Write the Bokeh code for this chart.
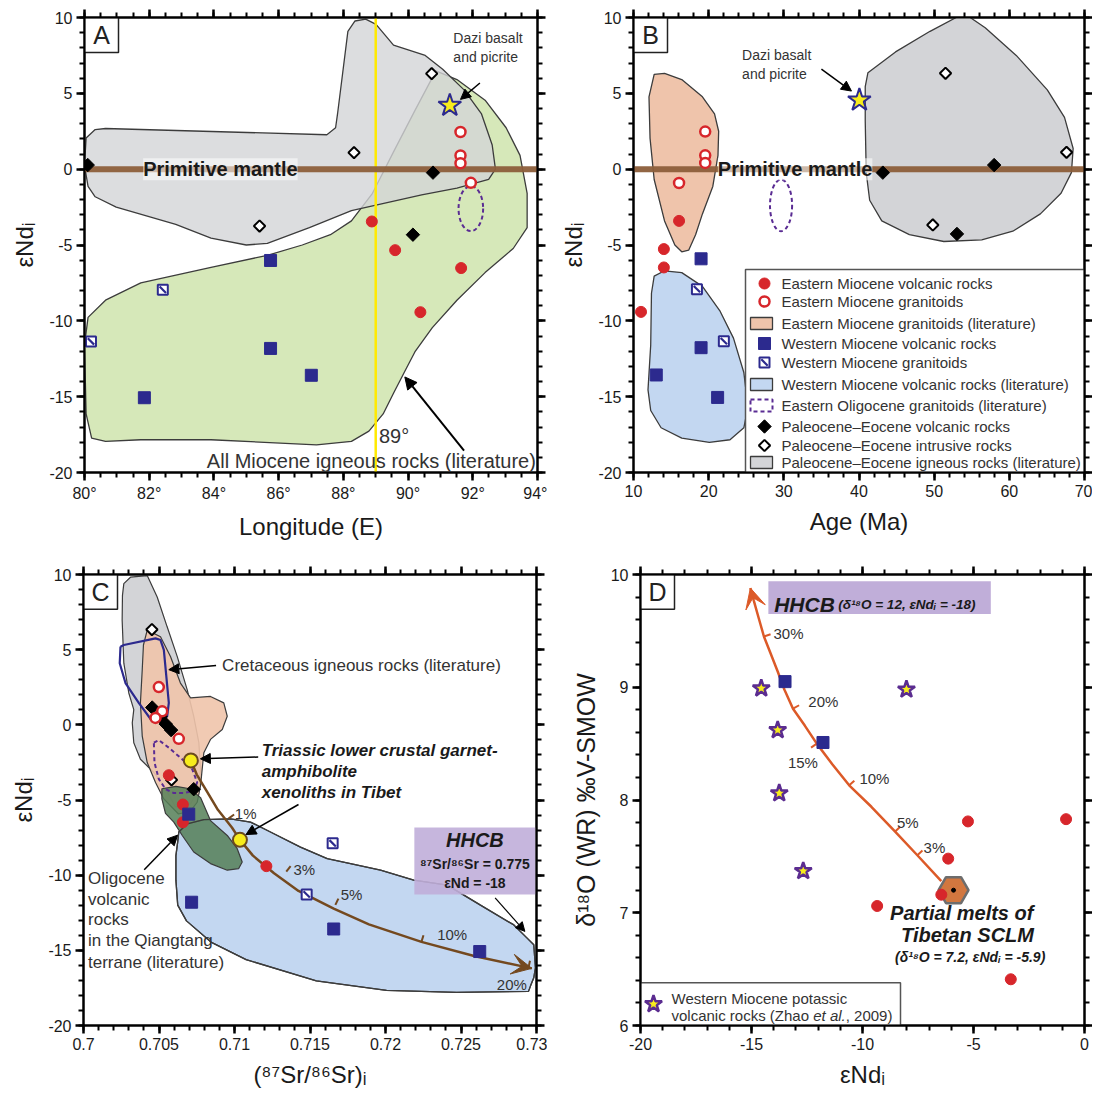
import numpy as np
from bokeh.plotting import figure
from bokeh.layouts import row, column
from bokeh.models import FixedTicker, LinearAxis, Label, Arrow, NormalHead, VeeHead, Range1d
from bokeh.embed import file_html
from bokeh.resources import INLINE

FONT = "Liberation Sans"
RED = "#d7262b"
NAVY = "#2c2a8e"
PURPLE_STAR = "#5b2c90"
YELLOW = "#f7ec1c"
BROWN = "#74491f"
PM_BROWN = "#8c5e3a"
ORANGE_CURVE = "#dc5a28"
GRAY_FILL = "#d3d4d7"
GREEN_FILL = "#d6e8b9"
ORANGE_FILL = "#efc4ab"
BLUE_FILL = "#c3d7f1"
DKGREEN_FILL = "#557f57"
HHCB_FILL = "#c0aed9"
OLIG_PURPLE = "#5a2c93"
OUTLINE = "#3c3c3c"
TEXT = "#333333"

# ---------------- common ticks ----------------
Y_TICKS = [-20, -15, -10, -5, 0, 5, 10]
Y_LABELS = ["-20", "-15", "-10", "-5", "0", "5", "10"]
Y_MINOR = list(range(-20, 11))
PRIMITIVE_MANTLE = 0.0

# ---------------- Panel A: eNd vs longitude ----------------
A_XR = (80, 94)
A_YR = (-20, 10)
A_XTICKS = [80, 82, 84, 86, 88, 90, 92, 94]
A_XLABELS = ["80°", "82°", "84°", "86°", "88°", "90°", "92°", "94°"]
A_XMINOR = [80 + 0.5 * i for i in range(29)]
A_SPLIT_LON = 89.0

A_E_VOLC_X = [88.88, 89.60, 91.64, 90.38]
A_E_VOLC_Y = [-3.45, -5.34, -6.52, -9.43]
A_E_GRAN_X = [91.62, 91.62, 91.62, 91.94]
A_E_GRAN_Y = [2.45, 0.90, 0.39, -0.90]
A_W_VOLC_X = [85.75, 85.75, 87.01, 81.85]
A_W_VOLC_Y = [-6.02, -11.82, -13.59, -15.07]
A_W_GRAN_X = [82.42, 80.20]
A_W_GRAN_Y = [-7.95, -11.36]
A_PE_VOLC_X = [80.10, 90.77, 90.15]
A_PE_VOLC_Y = [0.27, -0.23, -4.32]
A_PE_INTR_X = [90.73, 88.33, 85.41]
A_PE_INTR_Y = [6.30, 1.09, -3.75]
A_DAZI_X = [91.29]
A_DAZI_Y = [4.20]
A_OLIG = dict(x=91.94, y=-2.6, w=0.76, h=2.96)

A_GRAY_X = [80.0, 80.05, 80.33, 80.65, 87.49, 87.76, 87.82, 87.98, 88.14, 88.36, 88.69, 89.01,
            89.55, 90.53, 91.07, 91.73, 92.27, 92.6, 92.7, 92.49, 91.51, 90.42, 88.25, 86.95,
            85.65, 85.0, 83.91, 82.82, 80.98, 80.33, 80.11]
A_GRAY_Y = [0.23, 2.05, 2.61, 2.68, 2.27, 2.73, 3.64, 6.36, 9.09, 9.77, 9.89, 9.55,
            8.18, 7.5, 6.59, 5.23, 3.64, 1.59, 0.0, -0.68, -1.25, -1.7, -2.73, -3.86,
            -4.89, -5.0, -4.55, -3.64, -2.5, -1.82, -1.14]
A_GREEN_X = [80.11, 80.65, 81.74, 83.91, 85.65, 86.73, 87.6, 88.25, 88.9, 89.55, 90.21, 90.86,
             91.51, 92.38, 93.03, 93.46, 93.68, 93.68, 93.25, 92.38, 91.51, 90.75, 90.21, 89.88,
             89.55, 89.23, 88.79, 88.25, 87.17, 83.91, 81.74, 80.65, 80.22, 80.05, 80.0]
A_GREEN_Y = [-9.77, -8.64, -7.5, -6.48, -5.68, -5.0, -4.32, -3.41, -1.59, 1.14, 3.86, 6.48,
             5.91, 4.55, 2.73, 0.91, -1.59, -3.86, -5.23, -6.82, -8.64, -10.45, -12.05, -13.41,
             -14.77, -16.14, -17.27, -17.95, -18.18, -17.84, -17.84, -17.95, -17.73, -16.14, -11.59]

# ---------------- Panel B: eNd vs age ----------------
B_XR = (10, 70)
B_YR = (-20, 10)
B_XTICKS = [10, 20, 30, 40, 50, 60, 70]
B_XLABELS = ["10", "20", "30", "40", "50", "60", "70"]
B_XMINOR = list(range(10, 71, 2))

B_E_VOLC_X = [16.06, 14.04, 14.04, 11.0]
B_E_VOLC_Y = [-3.41, -5.27, -6.48, -9.41]
B_E_GRAN_X = [19.54, 19.54, 19.54, 16.06]
B_E_GRAN_Y = [2.48, 0.91, 0.41, -0.91]
B_W_VOLC_X = [18.99, 18.99, 13.03, 21.19]
B_W_VOLC_Y = [-5.91, -11.77, -13.57, -15.05]
B_W_GRAN_X = [18.44, 22.02]
B_W_GRAN_Y = [-7.91, -11.34]
B_PE_VOLC_X = [43.17, 57.98, 53.03]
B_PE_VOLC_Y = [-0.23, 0.27, -4.27]
B_PE_INTR_X = [51.51, 67.61, 49.82]
B_PE_INTR_Y = [6.32, 1.11, -3.68]
B_DAZI_X = [40.05]
B_DAZI_Y = [4.55]
B_OLIG = dict(x=29.63, y=-2.39, w=2.94, h=3.4)

B_ORANGE_X = [12.75, 14.13, 16.42, 19.17, 20.78, 21.33, 21.24, 20.55, 19.17, 18.26, 17.34, 16.42,
              15.5, 14.13, 12.75, 12.2, 12.06]
B_ORANGE_Y = [6.25, 6.32, 5.91, 4.77, 3.64, 2.5, 0.91, -1.14, -2.95, -4.32, -5.34, -5.45,
              -5.0, -3.41, -0.68, 2.05, 4.77]
B_BLUE_X = [12.75, 14.13, 16.42, 19.17, 21.47, 23.3, 24.68, 25.23, 24.68, 22.84, 20.09, 16.42,
            13.67, 12.29, 11.93, 12.29, 12.39]
B_BLUE_Y = [-7.05, -6.7, -6.82, -7.73, -9.32, -11.14, -13.41, -15.68, -17.05, -17.84, -18.02, -17.73,
            -17.05, -15.91, -14.55, -11.59, -8.18]
B_GRAY_X = [41.19, 44.86, 49.45, 53.12, 54.5, 56.79, 60.92, 65.05, 67.34, 68.49, 68.26, 66.88,
            64.13, 60.46, 56.33, 51.28, 46.7, 43.03, 41.42, 40.96, 40.83, 40.83]
B_GRAY_Y = [6.36, 7.73, 9.09, 10.05, 10.1, 9.32, 7.5, 5.23, 3.41, 1.36, -0.23, -1.59,
            -2.95, -4.09, -4.66, -4.77, -4.32, -3.41, -2.05, -0.23, 3.18, 5.45]

B_LEGEND_LABELS = [
    "Eastern Miocene volcanic rocks",
    "Eastern Miocene granitoids",
    "Eastern Miocene granitoids (literature)",
    "Western Miocene volcanic rocks",
    "Western Miocene granitoids",
    "Western Miocene volcanic rocks (literature)",
    "Eastern Oligocene granitoids (literature)",
    "Paleocene\u2013Eocene volcanic rocks",
    "Paleocene\u2013Eocene intrusive rocks",
    "Paleocene\u2013Eocene igneous rocks (literature)",
]
B_LEGEND_KINDS = ["e_volc", "e_gran", "f_orange", "w_volc", "w_gran", "f_blue", "f_olig",
                  "pe_volc", "pe_intr", "f_gray"]

# ---------------- Panel C: eNd vs 87Sr/86Sr ----------------
C_XR = (0.7, 0.73)
C_YR = (-20, 10)
C_XTICKS = [0.7, 0.705, 0.71, 0.715, 0.72, 0.725, 0.73]
C_XLABELS = ["0.7", "0.705", "0.71", "0.715", "0.72", "0.725", "0.73"]
C_XMINOR = [round(0.7 + 0.001 * i, 3) for i in range(31)]

C_E_VOLC_X = [0.70565, 0.70658, 0.70658, 0.71211]
C_E_VOLC_Y = [-3.35, -5.30, -6.48, -9.40]
C_E_GRAN_X = [0.70499, 0.70521, 0.70477, 0.70631]
C_E_GRAN_Y = [2.51, 0.90, 0.46, -0.93]
C_W_VOLC_X = [0.70697, 0.70716, 0.71657, 0.72624]
C_W_VOLC_Y = [-5.94, -11.80, -13.58, -15.08]
C_W_GRAN_X = [0.71650, 0.71478]
C_W_GRAN_Y = [-7.88, -11.28]
C_PE_VOLC_X = [0.70455, 0.70510, 0.70545, 0.70580, 0.70730]
C_PE_VOLC_Y = [1.15, 0.55, 0.05, -0.35, -4.28]
C_PE_INTR_X = [0.70453, 0.70583]
C_PE_INTR_Y = [6.34, -3.66]
C_XENO_X = [0.70711, 0.71036]
C_XENO_Y = [-2.37, -7.65]

C_GRAY_X = [0.70267, 0.70311, 0.70422, 0.70488, 0.70554, 0.70621, 0.70687, 0.70730, 0.70764, 0.70775,
            0.70764, 0.70709, 0.70609, 0.70532, 0.70466, 0.70377, 0.70333, 0.70323, 0.70333, 0.70300,
            0.70267, 0.70256, 0.70258]
C_GRAY_Y = [9.39, 9.82, 9.93, 8.50, 6.52, 4.54, 2.33, 0.57, -1.19, -2.95,
            -4.27, -5.26, -5.46, -4.06, -3.17, -2.29, -1.19, 0.13, 1.01, 2.12,
            4.10, 6.96, 8.61]
C_ORANGE_X = [0.70422, 0.70510, 0.70576, 0.70642, 0.70709, 0.70841, 0.70929, 0.70952, 0.70919, 0.70841,
              0.70797, 0.70786, 0.70775, 0.70753, 0.70709, 0.70629, 0.70532, 0.70477, 0.70422, 0.70389,
              0.70377, 0.70389, 0.70397]
C_ORANGE_Y = [6.30, 5.86, 4.54, 2.78, 1.79, 1.89, 1.46, 0.57, -0.31, -0.97,
              -1.85, -2.95, -4.06, -5.15, -5.73, -5.93, -4.93, -3.83, -2.51, -0.75,
              1.46, 3.66, 5.31]
C_CRET_X = [0.70245, 0.70267, 0.70477, 0.70510, 0.70532, 0.70565, 0.70554, 0.70521, 0.70455, 0.70366,
            0.70278, 0.70240, 0.70245]
C_CRET_Y = [5.20, 5.31, 5.75, 5.64, 4.98, 1.46, 0.57, 0.17, 0.24, 1.46,
            2.78, 4.10, 5.20]
C_OLIG_X = [0.70466, 0.70499, 0.70565, 0.70654, 0.70720, 0.70753, 0.70730, 0.70664, 0.70598, 0.70543,
            0.70499, 0.70470, 0.70466]
C_OLIG_Y = [-1.19, -1.02, -1.52, -2.29, -2.95, -3.83, -4.39, -4.54, -4.54, -4.27,
            -3.61, -2.51, -1.19]
C_DKGREEN_X = [0.70519, 0.70612, 0.70705, 0.70775, 0.70841, 0.70952, 0.71018, 0.71051, 0.71028, 0.70952,
               0.70841, 0.70730, 0.70654, 0.70598, 0.70543, 0.70519]
C_DKGREEN_Y = [-4.25, -4.09, -4.25, -4.84, -6.37, -7.36, -8.24, -9.12, -9.56, -9.67,
               -9.23, -8.46, -7.36, -6.47, -5.89, -4.93]
C_BLUE_X = [0.70631, 0.70687, 0.70797, 0.70974, 0.71106, 0.71238, 0.71437, 0.71614, 0.71768, 0.71967,
            0.72187, 0.72409, 0.72629, 0.72850, 0.72938, 0.72982, 0.72993, 0.72982, 0.72960, 0.72947,
            0.72470, 0.72007, 0.71542, 0.71077, 0.70844, 0.70682, 0.70624, 0.70612, 0.70612, 0.70624]
C_BLUE_Y = [-7.13, -6.59, -6.30, -6.26, -6.47, -7.13, -8.13, -8.90, -9.23, -9.67,
            -10.33, -10.66, -11.99, -13.31, -14.19, -14.63, -16.17, -16.83, -17.38, -17.73,
            -17.79, -17.66, -17.03, -15.62, -14.45, -13.04, -11.99, -10.33, -8.70, -7.77]
C_MIX_X = [0.70711, 0.70750, 0.70820, 0.70890, 0.70983, 0.71036, 0.71122, 0.71262, 0.71424, 0.71657,
           0.71890, 0.72238, 0.72587, 0.72969]
C_MIX_Y = [-2.37, -3.31, -4.48, -5.65, -6.83, -7.65, -8.70, -9.87, -11.05, -12.22,
           -13.27, -14.44, -15.38, -16.20]
C_MIX_PCT = ["1%", "3%", "5%", "10%", "20%"]
C_MIX_TICK_X = [0.70960, 0.71343, 0.71668, 0.72238, 0.72947]
C_MIX_TICK_Y = [-6.24, -9.76, -11.98, -14.44, -16.15]
C_HHCB_BOX = dict(left=0.72191, right=0.72993, top=-6.83, bottom=-11.28)

# ---------------- Panel D: d18O vs eNd ----------------
D_XR = (-20, 0)
D_YR = (6, 10)
D_XTICKS = [-20, -15, -10, -5, 0]
D_XLABELS = ["-20", "-15", "-10", "-5", "0"]
D_XMINOR = list(range(-20, 1))
D_YTICKS = [6, 7, 8, 9, 10]
D_YLABELS = ["6", "7", "8", "9", "10"]
D_YMINOR = [round(6 + 0.2 * i, 1) for i in range(21)]

D_ZHAO_X = [-14.56, -8.02, -13.82, -13.75, -12.67]
D_ZHAO_Y = [8.99, 8.98, 8.62, 8.06, 7.37]
D_W_VOLC_X = [-13.49, -11.78]
D_W_VOLC_Y = [9.05, 8.51]
D_E_VOLC_X = [-5.25, -0.83, -6.14, -6.45, -9.34, -3.32]
D_E_VOLC_Y = [7.81, 7.83, 7.48, 7.16, 7.06, 6.41]
D_SCLM_X = [-5.9]
D_SCLM_Y = [7.2]
D_MIX_X = [-6.45, -7.53, -8.53, -9.60, -10.60, -11.37, -12.06, -12.60, -13.13, -13.52,
           -13.82, -14.16, -14.44, -14.67, -14.90, -15.05]
D_MIX_Y = [7.28, 7.51, 7.72, 7.94, 8.13, 8.32, 8.50, 8.66, 8.81, 8.98,
           9.14, 9.31, 9.45, 9.61, 9.77, 9.88]
D_MIX_PCT = ["3%", "5%", "10%", "15%", "20%", "30%"]
D_MIX_TICK_X = [-7.53, -8.53, -10.60, -12.06, -13.13, -14.44]
D_MIX_TICK_Y = [7.51, 7.72, 8.13, 8.50, 8.81, 9.45]
D_HHCB_BOX = dict(left=-14.24, right=-4.22, top=9.94, bottom=9.65)


# ---------------- helpers ----------------
def make_fig(xr, yr, w, h, ml, mr, mt, mb):
    p = figure(width=w, height=h, x_range=Range1d(*xr), y_range=Range1d(*yr),
               output_backend="svg", toolbar_location=None,
               min_border_left=ml, min_border_right=mr, min_border_top=mt, min_border_bottom=mb)
    p.xgrid.visible = False
    p.ygrid.visible = False
    p.outline_line_color = "black"
    p.outline_line_width = 2
    return p


def style_axis(ax):
    ax.axis_line_width = 2
    ax.axis_line_color = "black"
    ax.major_tick_line_color = "black"
    ax.minor_tick_line_color = "black"
    ax.major_tick_line_width = 2.5
    ax.minor_tick_line_width = 2
    ax.major_tick_out = 8
    ax.major_tick_in = 0
    ax.minor_tick_out = 5
    ax.minor_tick_in = 0
    ax.major_label_text_font = FONT
    ax.major_label_text_font_size = "16px"
    ax.major_label_text_color = "#1a1a1a"
    ax.major_label_standoff = 4
    ax.axis_label_text_font = FONT
    ax.axis_label_text_font_size = "24px"
    ax.axis_label_text_font_style = "normal"
    ax.axis_label_text_color = "#1a1a1a"
    ax.axis_label_standoff = 8


def setup_axes(p, xt, xm, xl, yt, ym, yl, xtitle, ytitle, ytitle_size="24px"):
    xtk = FixedTicker(ticks=xt, minor_ticks=xm)
    ytk = FixedTicker(ticks=yt, minor_ticks=ym)
    p.xaxis.ticker = xtk
    p.yaxis.ticker = ytk
    p.xaxis.major_label_overrides = {t: l for t, l in zip(xt, xl)}
    p.yaxis.major_label_overrides = {t: l for t, l in zip(yt, yl)}
    p.xaxis.axis_label = xtitle
    p.yaxis.axis_label = ytitle
    for ax in p.xaxis + p.yaxis:
        style_axis(ax)
    p.yaxis.axis_label_text_font_size = ytitle_size
    for loc, tk, ticks in (("above", xtk, xt), ("right", ytk, yt)):
        ax = LinearAxis(ticker=tk)
        style_axis(ax)
        ax.major_label_overrides = {t: "" for t in ticks}
        ax.major_label_text_font_size = "0px"
        ax.major_label_standoff = 0
        p.add_layout(ax, loc)


def pts(p, xs, ys, kind):
    if kind == "e_volc":
        p.scatter(x=xs, y=ys, marker="circle", size=11, fill_color=RED, line_color=RED)
    elif kind == "e_gran":
        p.scatter(x=xs, y=ys, marker="circle", size=10, fill_color="white", line_color=RED, line_width=2.5)
    elif kind == "w_volc":
        p.scatter(x=xs, y=ys, marker="square", size=12, fill_color=NAVY, line_color=NAVY)
    elif kind == "w_gran":
        p.scatter(x=xs, y=ys, marker="square", size=10, fill_color="white", line_color=NAVY, line_width=2)
        p.scatter(x=xs, y=ys, marker="dash", size=9, angle=-np.pi / 4, line_color=NAVY, line_width=2.2)
    elif kind == "pe_volc":
        p.scatter(x=xs, y=ys, marker="square", size=9.5, angle=np.pi / 4, fill_color="black", line_color="black")
    elif kind == "pe_intr":
        p.scatter(x=xs, y=ys, marker="square", size=8, angle=np.pi / 4, fill_color="white",
                  line_color="black", line_width=2)
    elif kind == "dazi":
        p.scatter(x=xs, y=ys, marker="star", size=24, fill_color=YELLOW, line_color=NAVY, line_width=2)
    elif kind == "zhao":
        p.scatter(x=xs, y=ys, marker="star", size=18, fill_color=YELLOW, line_color=PURPLE_STAR, line_width=2.5)
    elif kind == "xeno":
        p.scatter(x=xs, y=ys, marker="circle", size=14, fill_color=YELLOW, line_color="#6b4b1e", line_width=2)


def txt(p, x, y, s, size=15, style="normal", align="left", base="middle", color=TEXT,
        bg=None, bga=0.55, xo=0, yo=0):
    lab = Label(x=x, y=y, text=s, text_font=FONT, text_font_size=f"{size}px",
                text_font_style=style, text_align=align, text_baseline=base, text_color=color,
                x_offset=xo, y_offset=yo)
    if bg is not None:
        lab.background_fill_color = bg
        lab.background_fill_alpha = bga
    p.add_layout(lab)


def arrow(p, x0, y0, x1, y1, color="black", size=10, lw=1.5):
    p.add_layout(Arrow(end=NormalHead(size=size, fill_color=color, line_color=color),
                       x_start=x0, y_start=y0, x_end=x1, y_end=y1, line_color=color, line_width=lw))


def letter_box(p, letter, xr, yr, fw, fh):
    dx = (xr[1] - xr[0]) * 34.0 / fw
    dy = (yr[1] - yr[0]) * 35.0 / fh
    p.quad(left=[xr[0]], right=[xr[0] + dx], top=[yr[1]], bottom=[yr[1] - dy],
           fill_color="white", line_color="#222222", line_width=1.5)
    txt(p, xr[0] + dx / 2, yr[1] - dy / 2, letter, size=25, align="center", color="#222222")


def curve_ticks(p, cx, cy, tx, ty, sx, sy, sides, length, color, width):
    cx = np.asarray(cx, float)
    cy = np.asarray(cy, float)
    x1s, y1s = [], []
    for k, (x, y) in enumerate(zip(tx, ty)):
        d = (cx - x) ** 2 * sx ** 2 + (cy - y) ** 2 * sy ** 2
        i = int(np.argmin(d))
        a = max(i - 1, 0)
        b = min(i + 1, len(cx) - 1)
        dxp = (cx[b] - cx[a]) * sx
        dyp = (cy[b] - cy[a]) * sy
        n = np.hypot(dxp, dyp)
        nx, ny = -dyp / n, dxp / n
        if ny < 0:
            nx, ny = -nx, -ny
        s = sides[k]
        x1s.append(x + s * nx * length / sx)
        y1s.append(y + s * ny * length / sy)
    p.segment(x0=list(tx), y0=list(ty), x1=x1s, y1=y1s, line_color=color, line_width=width)


def end_head(p, cx, cy, color, size):
    p.add_layout(Arrow(end=VeeHead(size=size, fill_color=color, line_color=color),
                       x_start=cx[-2], y_start=cy[-2], x_end=cx[-1], y_end=cy[-1],
                       line_alpha=0.0, line_width=0.1))


# ---------------- geometry (page origin is the window corner) ----------------
GA = dict(w=547, h=542, ml=84, mr=10, mt=17, mb=70)
GB = dict(w=545, h=542, ml=86, mr=8, mt=17, mb=70)
GC = dict(w=547, h=557, ml=83, mr=11, mt=32, mb=71)
GD = dict(w=545, h=557, ml=93, mr=8, mt=30, mb=74)


def frame(g):
    return g["w"] - g["ml"] - g["mr"], g["h"] - g["mt"] - g["mb"]


ENDI = "\u03b5Nd\u1d62"

# ======================= Panel A =======================
pa = make_fig(A_XR, A_YR, **GA)
fwA, fhA = frame(GA)
setup_axes(pa, A_XTICKS, A_XMINOR, A_XLABELS, Y_TICKS, Y_MINOR, Y_LABELS, "Longitude (E)", ENDI)
pa.patch(A_GREEN_X, A_GREEN_Y, fill_color=GREEN_FILL, line_color=OUTLINE, line_width=1.3)
pa.patch(A_GRAY_X, A_GRAY_Y, fill_color=GRAY_FILL, fill_alpha=0.8, line_color=OUTLINE, line_width=1.3)
pa.line([A_SPLIT_LON, A_SPLIT_LON], list(A_YR), line_color="#ffea00", line_width=2.5)
pa.line(list(A_XR), [PRIMITIVE_MANTLE, PRIMITIVE_MANTLE], line_color=PM_BROWN, line_width=6, line_alpha=0.95)
pa.ellipse(x=[A_OLIG["x"]], y=[A_OLIG["y"]], width=[A_OLIG["w"]], height=[A_OLIG["h"]],
           fill_color=None, line_color=OLIG_PURPLE, line_width=2, line_dash="4 3")
pts(pa, A_PE_INTR_X, A_PE_INTR_Y, "pe_intr")
pts(pa, A_PE_VOLC_X, A_PE_VOLC_Y, "pe_volc")
pts(pa, A_W_GRAN_X, A_W_GRAN_Y, "w_gran")
pts(pa, A_W_VOLC_X, A_W_VOLC_Y, "w_volc")
pts(pa, A_E_VOLC_X, A_E_VOLC_Y, "e_volc")
pts(pa, A_E_GRAN_X, A_E_GRAN_Y, "e_gran")
pts(pa, A_DAZI_X, A_DAZI_Y, "dazi")
txt(pa, 84.2, 0.0, "Primitive mantle", size=20, style="bold", align="center", color="#1a1a1a", bg="white")
txt(pa, 91.4, 8.64, "Dazi basalt", size=14)
txt(pa, 91.4, 7.39, "and picrite", size=14)
arrow(pa, 92.22, 5.68, 91.62, 4.6)
txt(pa, 89.1, -17.6, "89\u00b0", size=20)
txt(pa, 93.95, -19.25, "All Miocene igneous rocks (literature)", size=20, align="right")
arrow(pa, 91.73, -18.55, 89.9, -13.7, size=12, lw=2)
letter_box(pa, "A", A_XR, A_YR, fwA, fhA)

# ======================= Panel B =======================
pb = make_fig(B_XR, B_YR, **GB)
fwB, fhB = frame(GB)
sxB = fwB / (B_XR[1] - B_XR[0])
syB = fhB / (B_YR[1] - B_YR[0])
setup_axes(pb, B_XTICKS, B_XMINOR, B_XLABELS, Y_TICKS, Y_MINOR, Y_LABELS, "Age (Ma)", ENDI)
pb.patch(B_ORANGE_X, B_ORANGE_Y, fill_color=ORANGE_FILL, line_color=OUTLINE, line_width=1.3)
pb.patch(B_BLUE_X, B_BLUE_Y, fill_color=BLUE_FILL, line_color=OUTLINE, line_width=1.3)
pb.patch(B_GRAY_X, B_GRAY_Y, fill_color=GRAY_FILL, line_color=OUTLINE, line_width=1.3)
pb.line(list(B_XR), [PRIMITIVE_MANTLE, PRIMITIVE_MANTLE], line_color=PM_BROWN, line_width=6, line_alpha=0.95)
pb.ellipse(x=[B_OLIG["x"]], y=[B_OLIG["y"]], width=[B_OLIG["w"]], height=[B_OLIG["h"]],
           fill_color=None, line_color=OLIG_PURPLE, line_width=2, line_dash="4 3")
pts(pb, B_PE_INTR_X, B_PE_INTR_Y, "pe_intr")
pts(pb, B_PE_VOLC_X, B_PE_VOLC_Y, "pe_volc")
pts(pb, B_W_GRAN_X, B_W_GRAN_Y, "w_gran")
pts(pb, B_W_VOLC_X, B_W_VOLC_Y, "w_volc")
pts(pb, B_E_VOLC_X, B_E_VOLC_Y, "e_volc")
pts(pb, B_E_GRAN_X, B_E_GRAN_Y, "e_gran")
pts(pb, B_DAZI_X, B_DAZI_Y, "dazi")
txt(pb, 31.5, 0.0, "Primitive mantle", size=20, style="bold", align="center", color="#1a1a1a", bg="white")
txt(pb, 24.45, 7.5, "Dazi basalt", size=14)
txt(pb, 24.45, 6.25, "and picrite", size=14)
arrow(pb, 35.0, 6.59, 39.0, 5.15)

leg_w_px, leg_h_px = 339, 203
leg_left = B_XR[1] - leg_w_px / sxB
leg_top = B_YR[0] + leg_h_px / syB
pb.quad(left=[leg_left], right=[B_XR[1]], top=[leg_top], bottom=[B_YR[0]],
        fill_color="white", line_color="#555555", line_width=1.5)
row_off = [14, 32, 54, 74, 93, 115, 136, 157, 176, 193]
mk_x = leg_left + 19 / sxB
tx_x = leg_left + 36 / sxB
for off, kind, lab in zip(row_off, B_LEGEND_KINDS, B_LEGEND_LABELS):
    yy = leg_top - off / syB
    if kind.startswith("f_"):
        fills = {"f_orange": (ORANGE_FILL, OUTLINE, "solid"), "f_blue": (BLUE_FILL, OUTLINE, "solid"),
                 "f_gray": (GRAY_FILL, OUTLINE, "solid"), "f_olig": (None, OLIG_PURPLE, "4 3")}
        fc, lc, dash = fills[kind]
        pb.rect(x=[mk_x - 3 / sxB], y=[yy], width=22, height=12, width_units="screen", height_units="screen",
                fill_color=fc, line_color=lc, line_width=2 if kind == "f_olig" else 1.3, line_dash=dash)
    else:
        pts(pb, [mk_x], [yy], kind)
    txt(pb, tx_x, yy, lab, size=15)
letter_box(pb, "B", B_XR, B_YR, fwB, fhB)

# ======================= Panel C =======================
pc = make_fig(C_XR, C_YR, **GC)
fwC, fhC = frame(GC)
sxC = fwC / (C_XR[1] - C_XR[0])
syC = fhC / (C_YR[1] - C_YR[0])
setup_axes(pc, C_XTICKS, C_XMINOR, C_XLABELS, Y_TICKS, Y_MINOR, Y_LABELS,
           "(\u2078\u2077Sr/\u2078\u2076Sr)\u1d62", ENDI)
pc.patch(C_GRAY_X, C_GRAY_Y, fill_color=GRAY_FILL, line_color=OUTLINE, line_width=1.2)
pc.patch(C_ORANGE_X, C_ORANGE_Y, fill_color=ORANGE_FILL, fill_alpha=0.9, line_color=OUTLINE, line_width=1.2)
pc.line(C_CRET_X, C_CRET_Y, line_color=NAVY, line_width=2.2)
pc.patch(C_BLUE_X, C_BLUE_Y, fill_color=BLUE_FILL, line_color=OUTLINE, line_width=1.3)
pc.patch(C_DKGREEN_X, C_DKGREEN_Y, fill_color=DKGREEN_FILL, fill_alpha=0.85, line_color=OUTLINE, line_width=1.2)
pc.patch(C_BLUE_X, C_BLUE_Y, fill_color=None, line_color=OUTLINE, line_width=1.3)
pc.line(C_OLIG_X, C_OLIG_Y, line_color=OLIG_PURPLE, line_width=2, line_dash="4 3")
pc.quad(left=[C_HHCB_BOX["left"]], right=[C_HHCB_BOX["right"]], top=[C_HHCB_BOX["top"]],
        bottom=[C_HHCB_BOX["bottom"]], fill_color=HHCB_FILL, fill_alpha=0.9, line_color=None)
pc.line(C_MIX_X, C_MIX_Y, line_color=BROWN, line_width=2.5)
curve_ticks(pc, C_MIX_X, C_MIX_Y, C_MIX_TICK_X, C_MIX_TICK_Y, sxC, syC, [1, 1, 1, 1, 1], 7, BROWN, 2)
end_head(pc, C_MIX_X, C_MIX_Y, BROWN, 20)
pts(pc, C_PE_INTR_X, C_PE_INTR_Y, "pe_intr")
pts(pc, C_PE_VOLC_X, C_PE_VOLC_Y, "pe_volc")
pts(pc, C_E_VOLC_X, C_E_VOLC_Y, "e_volc")
pts(pc, C_E_GRAN_X, C_E_GRAN_Y, "e_gran")
pts(pc, C_W_GRAN_X, C_W_GRAN_Y, "w_gran")
pts(pc, C_W_VOLC_X, C_W_VOLC_Y, "w_volc")
pts(pc, C_XENO_X, C_XENO_Y, "xeno")
c_pct_pos = [(0.71002, -5.89), (0.7139, -9.59), (0.71703, -11.28), (0.72342, -13.97), (0.72737, -17.26)]
for (px, py), s in zip(c_pct_pos, C_MIX_PCT):
    txt(pc, px, py, s, size=15)
txt(pc, 0.70918, 3.95, "Cretaceous igneous rocks (literature)", size=17)
arrow(pc, 0.70878, 3.95, 0.70565, 3.67)
for yy, s in zip([-1.72, -3.08, -4.48], ["Triassic lower crustal garnet-", "amphibolite", "xenoliths in Tibet"]):
    txt(pc, 0.7118, yy, s, size=17, style="bold italic", color="#1a1a1a")
arrow(pc, 0.71157, -2.14, 0.70774, -2.26)
arrow(pc, 0.71424, -5.3, 0.71076, -7.3)
for yy, s in zip([-10.22, -11.63, -12.97, -14.37, -15.78],
                 ["Oligocene", "volcanic", "rocks", "in the Qiangtang", "terrane (literature)"]):
    txt(pc, 0.7003, yy, s, size=17)
arrow(pc, 0.70402, -9.64, 0.70623, -7.34)
cxm = (C_HHCB_BOX["left"] + C_HHCB_BOX["right"]) / 2
txt(pc, cxm, -7.65, "HHCB", size=20, style="bold italic", align="center", color="#1a1a1a")
txt(pc, cxm, -9.29, "\u2078\u2077Sr/\u2078\u2076Sr = 0.775", size=14, style="bold", align="center", color="#1a1a1a")
txt(pc, cxm, -10.5, "\u03b5Nd = -18", size=14, style="bold", align="center", color="#1a1a1a")
arrow(pc, 0.72726, -11.51, 0.72923, -13.74, size=9, lw=1.2)
letter_box(pc, "C", C_XR, C_YR, fwC, fhC)

# ======================= Panel D =======================
pdd = make_fig(D_XR, D_YR, **GD)
fwD, fhD = frame(GD)
sxD = fwD / (D_XR[1] - D_XR[0])
syD = fhD / (D_YR[1] - D_YR[0])
setup_axes(pdd, D_XTICKS, D_XMINOR, D_XLABELS, D_YTICKS, D_YMINOR, D_YLABELS, ENDI,
           "\u03b4\u00b9\u2078O (WR) \u2030V-SMOW", ytitle_size="25px")
pdd.quad(left=[D_HHCB_BOX["left"]], right=[D_HHCB_BOX["right"]], top=[D_HHCB_BOX["top"]],
         bottom=[D_HHCB_BOX["bottom"]], fill_color=HHCB_FILL, line_color=None)
pdd.line(D_MIX_X, D_MIX_Y, line_color=ORANGE_CURVE, line_width=2.5)
curve_ticks(pdd, D_MIX_X, D_MIX_Y, D_MIX_TICK_X, D_MIX_TICK_Y, sxD, syD, [1, 1, 1, -1, 1, 1], 7, ORANGE_CURVE, 2)
end_head(pdd, D_MIX_X, D_MIX_Y, ORANGE_CURVE, 20)
pdd.scatter(x=D_SCLM_X, y=D_SCLM_Y, marker="hex", size=30, fill_color="#d2773f", line_color="#6d6d6d", line_width=2.5)
pdd.scatter(x=D_SCLM_X, y=D_SCLM_Y, marker="circle", size=4, fill_color="black", line_color="black")
pts(pdd, D_E_VOLC_X, D_E_VOLC_Y, "e_volc")
pts(pdd, D_W_VOLC_X, D_W_VOLC_Y, "w_volc")
pts(pdd, D_ZHAO_X, D_ZHAO_Y, "zhao")
d_pct_pos = [(-7.25, 7.58), (-8.45, 7.80), (-10.14, 8.19), (-13.36, 8.33), (-12.44, 8.87), (-14.01, 9.48)]
for (px, py), s in zip(d_pct_pos, D_MIX_PCT):
    txt(pdd, px, py, s, size=15)
txt(pdd, -13.98, 9.73, "HHCB", size=21, style="bold italic", base="alphabetic", color="#1a1a1a")
txt(pdd, -13.98, 9.73, "(\u03b4\u00b9\u2078O = 12, \u03b5Nd\u1d62 = -18)", size=13.5, style="bold italic",
    base="alphabetic", color="#1a1a1a", xo=64)
txt(pdd, -5.53, 7.0, "Partial melts of", size=20, style="bold italic", align="center", color="#1a1a1a")
txt(pdd, -5.27, 6.8, "Tibetan SCLM", size=20, style="bold italic", align="center", color="#1a1a1a")
txt(pdd, -5.15, 6.61, "(\u03b4\u00b9\u2078O = 7.2, \u03b5Nd\u1d62 = -5.9)", size=14, style="bold italic",
    align="center", color="#1a1a1a")
lg_w, lg_h = 260, 43
pdd.quad(left=[D_XR[0]], right=[D_XR[0] + lg_w / sxD], top=[D_YR[0] + lg_h / syD], bottom=[D_YR[0]],
         fill_color="white", line_color="#555555", line_width=1.5)
pts(pdd, [D_XR[0] + 13 / sxD], [D_YR[0] + 21.5 / syD], "zhao")
lx = D_XR[0] + 31 / sxD
txt(pdd, lx, D_YR[0] + 27 / syD, "Western Miocene potassic", size=15)
txt(pdd, lx, D_YR[0] + 10 / syD, "volcanic rocks (Zhao", size=15)
txt(pdd, lx, D_YR[0] + 10 / syD, "et al.", size=15, style="italic", xo=141.7)
txt(pdd, lx, D_YR[0] + 10 / syD, ", 2009)", size=15, xo=174.2)
letter_box(pdd, "D", D_XR, D_YR, fwD, fhD)

layout = column(row(pa, pb), row(pc, pdd))
open("out.html", "w").write(file_html(layout, INLINE))
